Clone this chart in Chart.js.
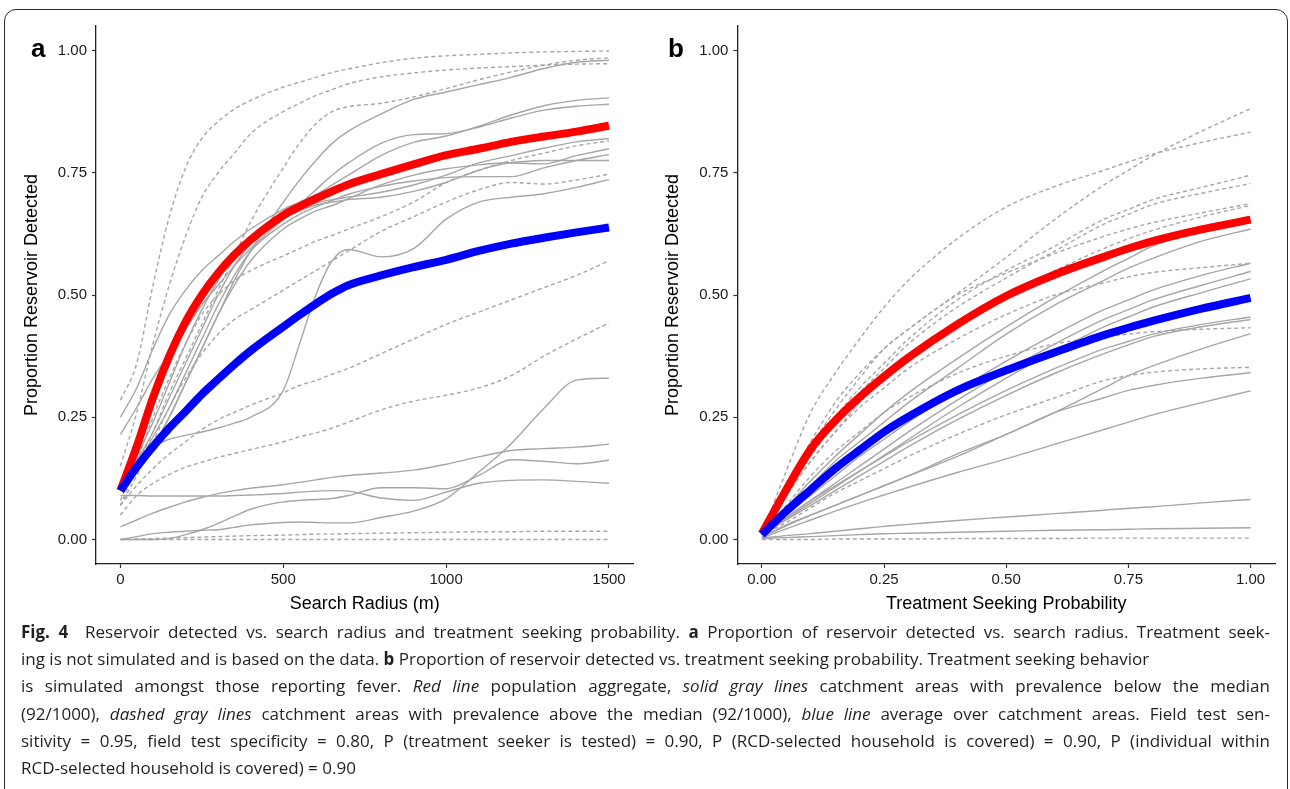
<!DOCTYPE html>
<html>
<head>
<meta charset="utf-8">
<script src="https://cdn.jsdelivr.net/npm/chart.js@4.4.1/dist/chart.umd.min.js"></script>
<style>
  html, body { margin: 0; padding: 0; background: #fff; }
  body { width: 1290px; height: 789px; position: relative; overflow: hidden; font-family: "Liberation Sans", Arial, sans-serif; }
  #frame { position: absolute; left: 4px; top: 9px; width: 1284px; height: 820px; border: 1px solid #2b2b2b; border-radius: 12px; box-sizing: border-box; }
  canvas { position: absolute; top: 0; }
  .tag { position: absolute; top: 35px; font-weight: bold; font-size: 26px; line-height: 26px; color: #000; }
  #caption { position: absolute; left: 21px; top: 618px; font-family: "Open Sans", Lato, sans-serif; font-size: 17px; line-height: 27.2px; color: #231f20; }
  #caption .ln { display: block; height: 27.2px; }
  #caption .ln span.t { white-space: nowrap; display: inline-block; }
</style>
</head>
<body>
<div id="frame"></div>
<canvas id="chartA" width="645" height="620" style="left:0"></canvas>
<canvas id="chartB" width="645" height="620" style="left:645px"></canvas>
<div class="tag" style="left:31px">a</div>
<div class="tag" style="left:668px">b</div>
<div id="caption">
  <div class="ln" data-w="1249"><span class="t"><b>Fig. 4</b>&nbsp; Reservoir detected vs. search radius and treatment seeking probability. <b>a</b> Proportion of reservoir detected vs. search radius. Treatment seek-</span></div>
  <div class="ln"><span class="t">ing is not simulated and is based on the data. <b>b</b> Proportion of reservoir detected vs. treatment seeking probability. Treatment seeking behavior</span></div>
  <div class="ln" data-w="1249"><span class="t">is simulated amongst those reporting fever. <i>Red line</i> population aggregate, <i>solid gray lines</i> catchment areas with prevalence below the median</span></div>
  <div class="ln" data-w="1249"><span class="t">(92/1000), <i>dashed gray lines</i> catchment areas with prevalence above the median (92/1000), <i>blue line</i> average over catchment areas. Field test sen-</span></div>
  <div class="ln" data-w="1249"><span class="t">sitivity = 0.95, field test specificity = 0.80, P (treatment seeker is tested) = 0.90, P (RCD-selected household is covered) = 0.90, P (individual within</span></div>
  <div class="ln"><span class="t">RCD-selected household is covered) = 0.90</span></div>
</div>
<script>
// ---- panel a: search radius (m) ----
const radius = [0, 50, 100, 150, 200, 250, 300, 350, 400, 500, 550, 600, 650, 700, 800, 900, 1000, 1100, 1200, 1300, 1400, 1500];

const redA  = [0.10, 0.19, 0.29, 0.375, 0.445, 0.50, 0.545, 0.582, 0.613, 0.663, 0.681, 0.697, 0.712, 0.726, 0.747, 0.767, 0.786, 0.799, 0.813, 0.824, 0.834, 0.846];
const blueA = [0.10, 0.148, 0.19, 0.228, 0.262, 0.297, 0.328, 0.358, 0.386, 0.435, 0.459, 0.482, 0.503, 0.52, 0.54, 0.557, 0.572, 0.59, 0.605, 0.617, 0.628, 0.638];

// catchments above the median (dashed)
const dashA1 = [0.285, 0.36, 0.52, 0.66, 0.76, 0.82, 0.855, 0.88, 0.898, 0.925, 0.935, 0.945, 0.955, 0.962, 0.975, 0.984, 0.989, 0.992, 0.995, 0.997, 0.998, 0.999];
const dashA2 = [0.07, 0.15, 0.22, 0.30, 0.37, 0.44, 0.51, 0.58, 0.65, 0.76, 0.81, 0.85, 0.875, 0.885, 0.892, 0.905, 0.922, 0.94, 0.956, 0.97, 0.98, 0.985];
const dashA3 = [0.15, 0.26, 0.40, 0.52, 0.62, 0.70, 0.75, 0.79, 0.83, 0.875, 0.892, 0.908, 0.92, 0.932, 0.946, 0.954, 0.96, 0.964, 0.967, 0.97, 0.972, 0.973];
const dashA4 = [0.08, 0.16, 0.25, 0.33, 0.40, 0.46, 0.50, 0.53, 0.55, 0.58, 0.595, 0.61, 0.622, 0.635, 0.66, 0.69, 0.73, 0.755, 0.775, 0.79, 0.805, 0.815];
const dashA5 = [0.07, 0.13, 0.20, 0.27, 0.33, 0.38, 0.42, 0.45, 0.47, 0.51, 0.53, 0.55, 0.57, 0.59, 0.63, 0.66, 0.69, 0.715, 0.73, 0.727, 0.735, 0.747];
const dashA6 = [0.07, 0.11, 0.145, 0.175, 0.20, 0.225, 0.245, 0.26, 0.275, 0.30, 0.315, 0.325, 0.338, 0.35, 0.38, 0.41, 0.44, 0.465, 0.49, 0.515, 0.54, 0.57];
const dashA7 = [0.05, 0.09, 0.115, 0.133, 0.148, 0.158, 0.168, 0.176, 0.184, 0.20, 0.21, 0.218, 0.228, 0.24, 0.265, 0.283, 0.295, 0.31, 0.335, 0.375, 0.41, 0.443];
const dashA8 = [0.0, 0.001, 0.002, 0.003, 0.004, 0.005, 0.006, 0.007, 0.008, 0.009, 0.01, 0.011, 0.011, 0.012, 0.013, 0.014, 0.015, 0.016, 0.016, 0.017, 0.017, 0.017];
const dashA9 = [0, 0, 0, 0, 0, 0, 0, 0, 0, 0, 0, 0, 0, 0, 0, 0, 0, 0, 0, 0, 0, 0];

// catchments below the median (solid)
const solidA1  = [0.10, 0.14, 0.19, 0.25, 0.32, 0.39, 0.46, 0.53, 0.59, 0.69, 0.735, 0.775, 0.81, 0.835, 0.87, 0.90, 0.915, 0.93, 0.945, 0.963, 0.976, 0.98];
const solidA2  = [0.25, 0.31, 0.39, 0.46, 0.51, 0.55, 0.58, 0.61, 0.635, 0.675, 0.69, 0.705, 0.725, 0.745, 0.785, 0.812, 0.825, 0.845, 0.868, 0.887, 0.898, 0.903];
const solidA3  = [0.215, 0.27, 0.33, 0.38, 0.43, 0.48, 0.52, 0.56, 0.595, 0.655, 0.685, 0.715, 0.745, 0.77, 0.81, 0.828, 0.83, 0.843, 0.862, 0.878, 0.886, 0.89];
const solidA4  = [0.10, 0.17, 0.24, 0.32, 0.40, 0.47, 0.53, 0.58, 0.615, 0.66, 0.675, 0.688, 0.695, 0.70, 0.71, 0.725, 0.745, 0.77, 0.785, 0.80, 0.813, 0.82];
const solidA5  = [0.10, 0.16, 0.22, 0.29, 0.36, 0.43, 0.50, 0.56, 0.605, 0.655, 0.672, 0.684, 0.69, 0.695, 0.70, 0.712, 0.73, 0.755, 0.77, 0.768, 0.785, 0.799];
const solidA6  = [0.10, 0.15, 0.21, 0.27, 0.34, 0.41, 0.48, 0.54, 0.59, 0.645, 0.665, 0.68, 0.693, 0.706, 0.722, 0.733, 0.74, 0.742, 0.742, 0.76, 0.775, 0.787];
const solidA7  = [0.10, 0.14, 0.19, 0.25, 0.32, 0.39, 0.46, 0.52, 0.57, 0.635, 0.655, 0.672, 0.683, 0.697, 0.725, 0.745, 0.758, 0.766, 0.771, 0.775, 0.775, 0.775];
const solidA8  = [0.10, 0.16, 0.19, 0.205, 0.213, 0.22, 0.228, 0.238, 0.25, 0.305, 0.40, 0.50, 0.57, 0.593, 0.578, 0.595, 0.655, 0.69, 0.70, 0.707, 0.72, 0.736];
const solidA9  = [0.0, 0.006, 0.012, 0.015, 0.017, 0.019, 0.02, 0.025, 0.03, 0.035, 0.036, 0.035, 0.034, 0.034, 0.045, 0.058, 0.083, 0.138, 0.196, 0.268, 0.326, 0.33];
const solidA10 = [0.026, 0.04, 0.054, 0.066, 0.077, 0.086, 0.094, 0.10, 0.105, 0.112, 0.117, 0.122, 0.127, 0.131, 0.136, 0.142, 0.154, 0.169, 0.182, 0.186, 0.189, 0.195];
const solidA11 = [0.0, 0.0, 0.0, 0.002, 0.01, 0.02, 0.033, 0.048, 0.062, 0.077, 0.08, 0.082, 0.084, 0.09, 0.106, 0.106, 0.104, 0.131, 0.163, 0.16, 0.155, 0.162];
const solidA12 = [0.09, 0.09, 0.089, 0.089, 0.089, 0.089, 0.089, 0.09, 0.091, 0.094, 0.097, 0.099, 0.10, 0.099, 0.085, 0.08, 0.097, 0.115, 0.121, 0.122, 0.119, 0.115];

// ---- panel b: treatment seeking probability ----
const seeking = [0, 0.05, 0.1, 0.15, 0.2, 0.25, 0.3, 0.4, 0.5, 0.6, 0.7, 0.75, 0.8, 0.9, 1.0];

const redB  = [0.012, 0.102, 0.185, 0.243, 0.291, 0.333, 0.372, 0.44, 0.498, 0.542, 0.578, 0.595, 0.61, 0.634, 0.654];
const blueB = [0.01, 0.058, 0.102, 0.145, 0.183, 0.22, 0.251, 0.305, 0.346, 0.383, 0.418, 0.433, 0.447, 0.472, 0.494];

const dashB1  = [0.01, 0.10, 0.19, 0.265, 0.33, 0.39, 0.43, 0.503, 0.577, 0.655, 0.725, 0.755, 0.785, 0.835, 0.881];
const dashB2  = [0.01, 0.14, 0.26, 0.34, 0.41, 0.475, 0.53, 0.615, 0.68, 0.722, 0.755, 0.772, 0.788, 0.812, 0.833];
const dashB3  = [0.01, 0.10, 0.18, 0.25, 0.31, 0.36, 0.41, 0.49, 0.55, 0.60, 0.655, 0.675, 0.695, 0.72, 0.745];
const dashB4  = [0.01, 0.095, 0.17, 0.24, 0.30, 0.35, 0.40, 0.475, 0.535, 0.59, 0.645, 0.665, 0.685, 0.708, 0.728];
const dashB5  = [0.01, 0.11, 0.20, 0.28, 0.34, 0.39, 0.43, 0.50, 0.545, 0.585, 0.62, 0.635, 0.648, 0.668, 0.687];
const dashB6  = [0.01, 0.09, 0.16, 0.22, 0.28, 0.33, 0.37, 0.44, 0.50, 0.55, 0.595, 0.615, 0.632, 0.66, 0.683];
const dashB7  = [0.01, 0.09, 0.16, 0.22, 0.27, 0.31, 0.35, 0.41, 0.46, 0.50, 0.525, 0.537, 0.546, 0.556, 0.565];
const dashB8  = [0.01, 0.07, 0.13, 0.18, 0.22, 0.26, 0.29, 0.34, 0.375, 0.40, 0.415, 0.42, 0.425, 0.43, 0.433];
const dashB9  = [0.01, 0.035, 0.065, 0.095, 0.12, 0.145, 0.17, 0.215, 0.255, 0.29, 0.325, 0.335, 0.342, 0.349, 0.352];
const dashB10 = [0.0, 0.0, 0.0, 0.001, 0.001, 0.001, 0.001, 0.002, 0.002, 0.002, 0.003, 0.003, 0.003, 0.003, 0.003];

const solidB0  = [0.01, 0.065, 0.12, 0.17, 0.215, 0.26, 0.30, 0.37, 0.435, 0.495, 0.55, 0.575, 0.60, 0.63, 0.652];
const solidB1  = [0.01, 0.06, 0.11, 0.16, 0.20, 0.24, 0.28, 0.35, 0.42, 0.48, 0.53, 0.555, 0.575, 0.61, 0.635];
const solidB2  = [0.01, 0.05, 0.09, 0.13, 0.17, 0.205, 0.24, 0.305, 0.365, 0.42, 0.47, 0.49, 0.51, 0.54, 0.565];
const solidB3  = [0.01, 0.045, 0.08, 0.115, 0.15, 0.185, 0.22, 0.285, 0.345, 0.40, 0.45, 0.47, 0.49, 0.52, 0.548];
const solidB4  = [0.01, 0.042, 0.075, 0.107, 0.14, 0.172, 0.205, 0.27, 0.33, 0.385, 0.435, 0.455, 0.475, 0.505, 0.533];
const solidB5  = [0.01, 0.045, 0.08, 0.11, 0.14, 0.17, 0.20, 0.255, 0.305, 0.35, 0.39, 0.405, 0.42, 0.44, 0.455];
const solidB6  = [0.01, 0.04, 0.07, 0.10, 0.13, 0.16, 0.19, 0.245, 0.295, 0.34, 0.38, 0.398, 0.415, 0.435, 0.45];
const solidB7  = [0.005, 0.03, 0.05, 0.07, 0.09, 0.11, 0.13, 0.17, 0.215, 0.26, 0.31, 0.335, 0.355, 0.39, 0.421];
const solidB8  = [0.005, 0.028, 0.05, 0.07, 0.09, 0.11, 0.13, 0.175, 0.215, 0.26, 0.29, 0.305, 0.315, 0.33, 0.341];
const solidB9  = [0.003, 0.022, 0.04, 0.058, 0.075, 0.091, 0.107, 0.137, 0.165, 0.195, 0.225, 0.24, 0.255, 0.28, 0.304];
const solidB10 = [0.003, 0.008, 0.012, 0.017, 0.022, 0.027, 0.031, 0.039, 0.046, 0.053, 0.06, 0.064, 0.067, 0.075, 0.082];
const solidB11 = [0.002, 0.004, 0.006, 0.008, 0.01, 0.012, 0.013, 0.015, 0.017, 0.019, 0.02, 0.021, 0.022, 0.023, 0.024];

const yTicks = [0, 0.25, 0.5, 0.75, 1];
const radiusTicks = [0, 500, 1000, 1500];
const seekingTicks = [0, 0.25, 0.5, 0.75, 1];

const GRAY = '#a6a6a6';
const AXIS_FONT = '"Liberation Sans", Arial, sans-serif';

function pts(xs, ys) {
    return xs.map((x, i) => ({x: x, y: ys[i]}));
}

function grayLine(xs, ys, dashed) {
    return {
        data: pts(xs, ys),
        borderColor: GRAY,
        borderWidth: 1.4,
        borderDash: dashed ? [4, 3] : [],
        pointRadius: 0,
        cubicInterpolationMode: 'monotone',
        order: 3
    };
}

function thickLine(xs, ys, color, order) {
    return {
        data: pts(xs, ys),
        borderColor: color,
        borderWidth: 8,
        pointRadius: 0,
        cubicInterpolationMode: 'monotone',
        order: order
    };
}

/**
 * builds the options of one panel
 */
function panelOptions(cfg) {
    return {
        responsive: false,
        animation: false,
        events: [],
        layout: {padding: cfg.padding},
        plugins: {legend: {display: false}, tooltip: {enabled: false}},
        scales: {
            x: {
                type: 'linear',
                min: cfg.xMin,
                max: cfg.xMax,
                afterBuildTicks: s => { s.ticks = cfg.xTicks.map(v => ({value: v})); },
                afterFit: s => { s.height = 50.8; },
                grid: {drawOnChartArea: false, drawTicks: true, tickLength: 4, tickColor: '#333', tickWidth: 1.2},
                border: {display: true, color: '#222', width: 1.3},
                ticks: {color: '#1a1a1a', font: {family: AXIS_FONT, size: 15}, padding: 3, maxRotation: 0,
                        callback: cfg.xFormat},
                title: {display: true, text: cfg.xTitle, color: '#000', font: {family: AXIS_FONT, size: 18},
                        padding: {top: 0, bottom: 0}}
            },
            y: {
                type: 'linear',
                min: -0.05,
                max: 1.05,
                afterBuildTicks: s => { s.ticks = yTicks.map(v => ({value: v})); },
                afterFit: s => { s.width = cfg.yWidth; },
                grid: {drawOnChartArea: false, drawTicks: true, tickLength: 4, tickColor: '#333', tickWidth: 1.2},
                border: {display: true, color: '#222', width: 1.3},
                ticks: {color: '#1a1a1a', font: {family: AXIS_FONT, size: 15}, padding: 5,
                        callback: v => v.toFixed(2)},
                title: {display: true, text: 'Proportion Reservoir Detected', color: '#000',
                        font: {family: AXIS_FONT, size: 18}, padding: {top: 7, bottom: 0}}
            }
        }
    };
}

new Chart(document.getElementById('chartA'), {
    type: 'line',
    data: {
        datasets: [
            thickLine(radius, blueA, '#0000ff', 0),
            thickLine(radius, redA, '#ff0000', 1),
            grayLine(radius, dashA1, true), grayLine(radius, dashA2, true), grayLine(radius, dashA3, true),
            grayLine(radius, dashA4, true), grayLine(radius, dashA5, true), grayLine(radius, dashA6, true),
            grayLine(radius, dashA7, true), grayLine(radius, dashA8, true), grayLine(radius, dashA9, true),
            grayLine(radius, solidA1), grayLine(radius, solidA2), grayLine(radius, solidA3),
            grayLine(radius, solidA4), grayLine(radius, solidA5), grayLine(radius, solidA6),
            grayLine(radius, solidA7), grayLine(radius, solidA8), grayLine(radius, solidA9),
            grayLine(radius, solidA10), grayLine(radius, solidA11), grayLine(radius, solidA12)
        ]
    },
    options: panelOptions({
        padding: {left: 14, right: 11.6, top: 26, bottom: 5.2},
        yWidth: 82,
        xMin: -75, xMax: 1575,
        xTicks: radiusTicks,
        xFormat: v => String(v),
        xTitle: 'Search Radius (m)'
    })
});

new Chart(document.getElementById('chartB'), {
    type: 'line',
    data: {
        datasets: [
            thickLine(seeking, blueB, '#0000ff', 0),
            thickLine(seeking, redB, '#ff0000', 1),
            grayLine(seeking, dashB1, true), grayLine(seeking, dashB2, true), grayLine(seeking, dashB3, true),
            grayLine(seeking, dashB4, true), grayLine(seeking, dashB5, true), grayLine(seeking, dashB6, true),
            grayLine(seeking, dashB7, true), grayLine(seeking, dashB8, true), grayLine(seeking, dashB9, true),
            grayLine(seeking, dashB10, true),
            grayLine(seeking, solidB0), grayLine(seeking, solidB1), grayLine(seeking, solidB2),
            grayLine(seeking, solidB3), grayLine(seeking, solidB4), grayLine(seeking, solidB5),
            grayLine(seeking, solidB6), grayLine(seeking, solidB7), grayLine(seeking, solidB8),
            grayLine(seeking, solidB9), grayLine(seeking, solidB10), grayLine(seeking, solidB11)
        ]
    },
    options: panelOptions({
        padding: {left: 10.5, right: 15, top: 26, bottom: 5.2},
        yWidth: 81.9,
        xMin: -0.05, xMax: 1.05,
        xTicks: seekingTicks,
        xFormat: v => v.toFixed(2),
        xTitle: 'Treatment Seeking Probability'
    })
});

/**
 * stretches each justified caption line to the width it has in the printed figure
 */
function fitCaption() {
    for (const line of document.querySelectorAll('#caption .ln[data-w]')) {
        const span = line.querySelector('.t');
        const target = Number(line.dataset.w);
        const natural = span.getBoundingClientRect().width;
        const spaces = (span.textContent.match(/[ \u00a0]/g) || []).length;
        if (natural < target && spaces > 0) {
            span.style.wordSpacing = ((target - natural) / spaces) + 'px';
        } else if (natural > target) {
            span.style.letterSpacing = ((target - natural) / span.textContent.length) + 'px';
        }
    }
}
fitCaption();
</script>
</body>
</html>
